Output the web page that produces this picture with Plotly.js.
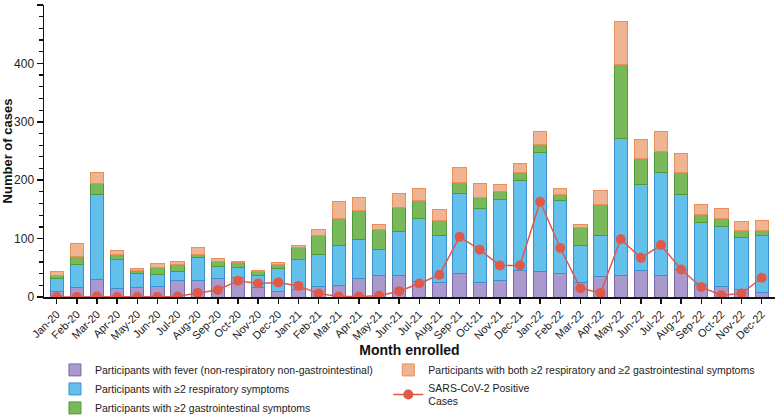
<!DOCTYPE html>
<html>
<head>
<meta charset="utf-8">
<script src="https://cdn.plot.ly/plotly-3.0.1.min.js"></script>
<style>html,body{margin:0;padding:0;background:#fff;}#chart{width:777px;height:416px;}</style>
</head>
<body>
<div id="chart"></div>
<script>
const months = ["Jan-20","Feb-20","Mar-20","Apr-20","May-20","Jun-20","Jul-20","Aug-20","Sep-20","Oct-20","Nov-20","Dec-20",
"Jan-21","Feb-21","Mar-21","Apr-21","May-21","Jun-21","Jul-21","Aug-21","Sep-21","Oct-21","Nov-21","Dec-21",
"Jan-22","Feb-22","Mar-22","Apr-22","May-22","Jun-22","Jul-22","Aug-22","Sep-22","Oct-22","Nov-22","Dec-22"];
const fever = [9,16,30,14,16,18,28,28,32,34,16,9, 13,18,19,31,37,37,27,25,41,25,28,46, 44,40,24,35,37,45,37,47,22,18,13,7];
const resp  = [22,39,146,51,25,21,15,39,21,17,21,39, 51,54,70,68,45,75,107,81,137,127,139,154, 204,125,64,71,235,147,176,129,105,103,89,99];
const gi    = [6,14,18,7,4,12,12,5,7,8,7,7, 20,33,45,49,33,41,31,25,18,18,13,13, 13,10,31,52,126,46,37,37,14,13,12,8];
const both  = [7,22,19,8,4,6,5,12,6,2,2,4, 5,11,29,23,10,24,20,18,25,25,12,15, 23,10,5,24,74,31,33,33,17,17,16,17];
const sars  = [0,0,1,0,0,0,1,7,12,28,23,25, 19,6,1,1,2,10,23,38,103,81,54,54, 163,84,15,7,99,67,89,47,17,3,6,33];

function barTrace(name, y, fill, edge, legend){
  return {type:'bar', name:name, x:months, y:y, legend:legend,
    marker:{color:fill, line:{color:edge, width:1}}};
}
const data = [
  barTrace("Participants with fever (non-respiratory non-gastrointestinal)", fever, "#a999cc", "#7a68a8", "legend"),
  barTrace("Participants with ≥2 respiratory symptoms", resp, "#62c0ea", "#3a8fd2", "legend"),
  barTrace("Participants with ≥2 gastrointestinal symptoms", gi, "#79b95a", "#4f9a3a", "legend"),
  barTrace("Participants with both ≥2 respiratory and ≥2 gastrointestinal symptoms", both, "#efb491", "#e98f5b", "legend2"),
  {type:'scatter', mode:'lines+markers', name:"SARS-CoV-2 Positive<br>Cases", x:months, y:sars, legend:'legend2',
    line:{color:"#e05a4c", width:1.5}, marker:{color:"#e05a4c", size:10}}
];
const font = {family:"Liberation Sans, Arial, sans-serif", color:"#111"};
const layout = {
  width:777, height:416,
  margin:{l:44, r:2, t:5, b:118.5, autoexpand:false},
  paper_bgcolor:"#fff", plot_bgcolor:"#fff",
  barmode:'stack', bargap:0.34,
  font:font,
  xaxis:{type:'category', range:[-0.63,35.66], showgrid:false, zeroline:false,
    showline:true, linecolor:"#111", linewidth:1.5,
    ticks:'outside', ticklen:5, tickwidth:1.5, tickcolor:"#111",
    tickangle:-45, tickfont:{size:11, family:font.family, color:"#222"},
    title:{text:"<b>Month enrolled</b>", font:{size:14, family:font.family, color:"#111"}, standoff:4},
    automargin:false},
  yaxis:{range:[0,500], dtick:100, showgrid:false, zeroline:false,
    showline:true, linecolor:"#111", linewidth:1.5,
    ticks:'outside', ticklen:6, tickwidth:1.5, tickcolor:"#111",
    tickfont:{size:12, family:font.family, color:"#222"},
    minor:{dtick:20, ticks:'outside', ticklen:3.5, tickwidth:1.2, tickcolor:"#111", showgrid:false},
    title:{text:"<b>Number of cases</b>", font:{size:13, family:font.family, color:"#111"}, standoff:6},
    automargin:false},
  legend:{x:0.015, y:-0.2, xanchor:'left', yanchor:'top', orientation:'v', bgcolor:'rgba(0,0,0,0)',
    font:{size:10.5, family:font.family, color:"#222"}, traceorder:'normal', itemwidth:30},
  legend2:{x:0.471, y:-0.2, xanchor:'left', yanchor:'top', orientation:'v', bgcolor:'rgba(0,0,0,0)',
    font:{size:10.5, family:font.family, color:"#222"}, traceorder:'normal', itemwidth:30},
  showlegend:true
};
Plotly.newPlot('chart', data, layout, {displayModeBar:false, staticPlot:true});
</script>
</body>
</html>
